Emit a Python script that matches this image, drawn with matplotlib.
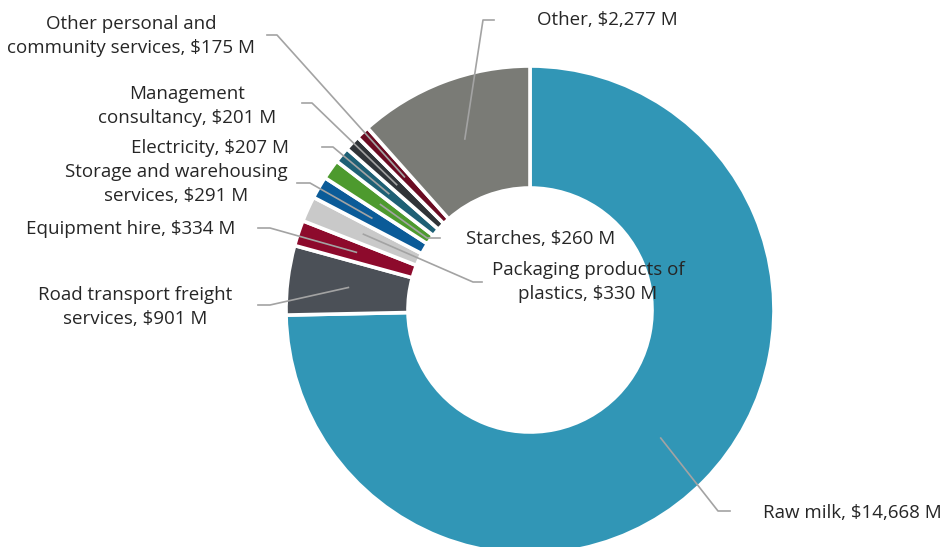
import numpy as np
import matplotlib.pyplot as plt

plt.rcParams['font.family'] = ['Open Sans', 'DejaVu Sans']

# data
names = ["Raw milk", "Road transport freight\nservices", "Equipment hire",
         "Packaging products of\nplastics", "Storage and warehousing\nservices",
         "Starches", "Electricity", "Management\nconsultancy",
         "Other personal and\ncommunity services", "Other"]
values = [14668, 901, 334, 330, 291, 260, 207, 201, 175, 2277]
colors = ["#3196b6", "#4b5057", "#8d0a2c", "#c9c9c9", "#0b5b98",
          "#4d9a2e", "#1e6075", "#303438", "#6b0b22", "#7a7b76"]

H = 547
cx, cy, R = 530, H - 310, 244
ring = 0.5

# label layout: elbow (x, y), end of horizontal (x, y), text (x, y), alignment
layout = [
    ((718, 511), (730, 511), (763, 513), "left"),
    ((270, 305), (258, 305), (135, 307), "center"),
    ((270, 228), (258, 228), (131, 229), "center"),
    ((473, 282), (482, 282), (588, 282), "center"),
    ((310, 183), (297, 183), (176, 184), "center"),
    ((427, 238), (440, 238), (541, 239), "center"),
    ((333, 147), (322, 147), (210, 148), "center"),
    ((312, 103), (302, 103), (187, 106), "center"),
    ((277, 35), (267, 35), (131, 36), "center"),
    ((483, 20), (494, 20), (607, 20), "center"),
]

fig = plt.figure(figsize=(9.42, 5.47), dpi=100)
ax = fig.add_axes([0, 0, 1, 1])
wedges, _ = ax.pie(values, colors=colors, startangle=90, counterclock=False,
                   center=(cx, cy), radius=R, frame=True,
                   wedgeprops=dict(width=R * ring, edgecolor="white", linewidth=2.6))

rm = R * (1 - ring / 2)
for w, name, val, (elb, end, tp, ha) in zip(wedges, names, values, layout):
    ang = np.deg2rad((w.theta1 + w.theta2) / 2)
    px, py = cx + rm * np.cos(ang), cy + rm * np.sin(ang)
    ax.plot([px, elb[0], end[0]], [py, H - elb[1], H - end[1]],
            color="#a3a3a3", lw=1.2, zorder=5)
    ax.text(tp[0], H - tp[1], f"{name}, ${val:,} M", ha=ha, va="center",
            fontsize=13.5, color="#262626", linespacing=1.45, zorder=6)

ax.set_xlim(0, 942)
ax.set_ylim(0, H)
ax.set_aspect("equal")
ax.axis("off")
fig.savefig("out.png", dpi=100)
